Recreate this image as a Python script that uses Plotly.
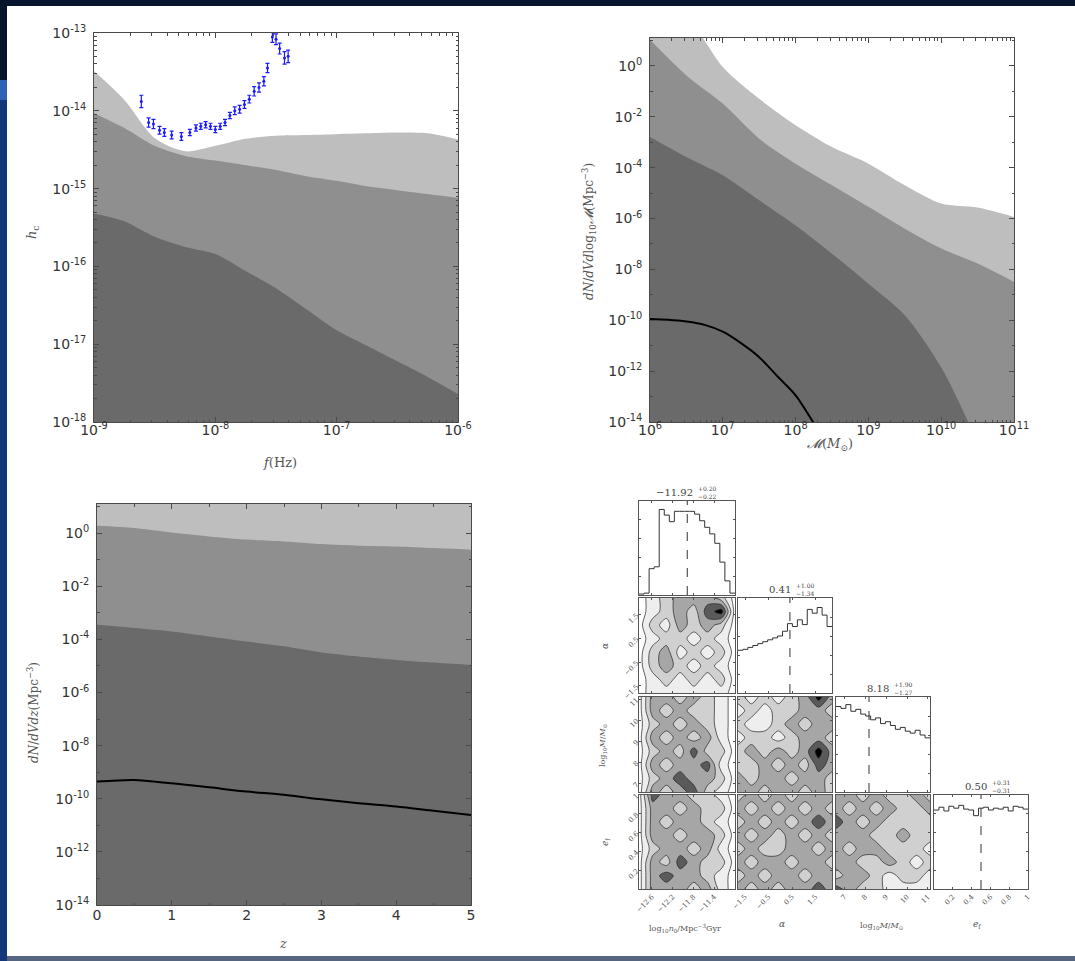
import numpy as np
import plotly.graph_objects as go

W, H = 1075, 961

# ---------------- data ----------------
# Panel A: characteristic strain h_c vs f (log10 values)
logf_grid = [-9.0, -8.75, -8.5, -8.25, -8.0, -7.75, -7.5, -7.25, -7.0, -6.75, -6.5, -6.25, -6.0]
hc_light = [-13.49, -13.86, -14.35, -14.52, -14.45, -14.36, -14.32, -14.31, -14.30, -14.29, -14.28, -14.29, -14.37]
hc_medium = [-14.03, -14.22, -14.45, -14.58, -14.64, -14.70, -14.76, -14.84, -14.90, -14.97, -15.02, -15.07, -15.12]
hc_dark = [-15.32, -15.42, -15.62, -15.75, -15.84, -16.06, -16.28, -16.55, -16.82, -17.02, -17.22, -17.42, -17.64]

pta_logf = [-8.61, -8.55, -8.51, -8.46, -8.42, -8.36, -8.28, -8.21, -8.16, -8.12, -8.08, -8.04,
            -8.00, -7.96, -7.92, -7.88, -7.84, -7.80, -7.76, -7.72, -7.68, -7.64, -7.60, -7.57,
            -7.53, -7.50, -7.47, -7.43, -7.40]
pta_logh = [-13.88, -14.15, -14.17, -14.25, -14.28, -14.31, -14.33, -14.28, -14.22, -14.20, -14.18, -14.20,
            -14.24, -14.20, -14.15, -14.06, -14.00, -13.98, -13.92, -13.85, -13.75, -13.70, -13.62, -13.45,
            -13.05, -13.08, -13.20, -13.32, -13.30]
pta_err = [0.08, 0.06, 0.06, 0.05, 0.05, 0.05, 0.05, 0.04, 0.04, 0.04, 0.04, 0.04,
           0.04, 0.04, 0.04, 0.04, 0.05, 0.05, 0.05, 0.05, 0.06, 0.06, 0.06, 0.06,
           0.07, 0.07, 0.07, 0.08, 0.08]

# Panel B: mass function (log10 values)
logM_grid = [6.0, 6.5, 7.0, 7.5, 8.0, 8.5, 9.0, 9.5, 10.0, 10.5, 11.0]
mf_light = [3.0, 2.0, -0.04, -1.29, -2.33, -3.19, -3.84, -4.69, -5.41, -5.57, -5.94]
mf_medium = [1.03, -0.37, -1.48, -2.86, -3.84, -4.69, -5.54, -6.40, -7.18, -7.77, -8.49]
mf_dark = [-2.79, -3.58, -4.30, -5.28, -6.27, -7.38, -8.56, -9.80, -11.85, -14.8, -18.0]
logM_line = [6.0, 6.25, 6.5, 6.75, 7.0, 7.25, 7.5, 7.75, 8.0, 8.25]
mf_line = [-9.95, -9.98, -10.05, -10.18, -10.45, -10.90, -11.45, -12.20, -12.95, -14.05]

# Panel C: redshift distribution (log10 values)
z_grid = [0.0, 0.5, 1.0, 1.5, 2.0, 2.5, 3.0, 3.5, 4.0, 4.5, 5.0]
zd_light = [1.6, 1.6, 1.6, 1.6, 1.6, 1.6, 1.6, 1.6, 1.6, 1.6, 1.6]
zd_medium = [0.28, 0.20, 0.03, -0.12, -0.24, -0.31, -0.41, -0.47, -0.50, -0.56, -0.62]
zd_dark = [-3.45, -3.57, -3.70, -3.89, -4.08, -4.26, -4.49, -4.64, -4.77, -4.87, -4.96]
zd_line = [-9.35, -9.29, -9.42, -9.57, -9.73, -9.85, -10.02, -10.17, -10.29, -10.45, -10.61]

# Panel D: corner plot
param_ranges = [(-12.85, -11.0), (-1.8, 2.2), (6.6, 11.1), (0.0, 1.0)]
param_ticks = [[-12.6, -12.2, -11.8, -11.4], [-1.5, -0.5, 0.5, 1.5], [7, 8, 9, 10, 11], [0.2, 0.4, 0.6, 0.8, 1.0]]
param_medians = [-11.92, 0.41, 8.18, 0.50]
param_title_main = ["−11.92", "0.41", "8.18", "0.50"]
param_title_err = ["+0.20<br>−0.22", "+1.00<br>−1.34", "+1.90<br>−1.27", "+0.31<br>−0.31"]
hist_vals = [
    [0.01, 0.02, 0.28, 0.30, 0.91, 0.85, 0.78, 0.89, 0.89, 0.89, 0.89, 0.86, 0.79, 0.72, 0.65, 0.55, 0.35, 0.15, 0.02],
    [0.45, 0.46, 0.48, 0.50, 0.52, 0.54, 0.56, 0.58, 0.60, 0.65, 0.73, 0.70, 0.77, 0.72, 0.88, 0.84, 0.90, 0.82, 0.70],
    [0.90, 0.88, 0.92, 0.85, 0.87, 0.82, 0.80, 0.76, 0.78, 0.72, 0.74, 0.70, 0.66, 0.68, 0.64, 0.62, 0.65, 0.60, 0.57],
    [0.84, 0.87, 0.83, 0.88, 0.86, 0.89, 0.85, 0.84, 0.78, 0.86, 0.87, 0.84, 0.86, 0.85, 0.87, 0.83, 0.88, 0.87, 0.85],
]
# 2-D density levels (rows bottom -> top), keyed by (row, col)
dens = {
    (1, 0): [[0, 1, 1, 1, 1, 1, 1, 0], [0, 1, 2, 1, 2, 1, 2, 0], [0, 2, 3, 2, 1, 2, 1, 0], [0, 2, 3, 1, 2, 1, 2, 0],
             [0, 1, 2, 2, 1, 2, 1, 0], [0, 2, 1, 3, 2, 3, 2, 0], [0, 1, 2, 3, 2, 4, 5, 0], [0, 1, 2, 3, 3, 3, 2, 0]],
    (2, 0): [[0, 3, 2, 3, 4, 2, 1, 0], [0, 2, 3, 4, 3, 3, 2, 0], [0, 3, 2, 3, 3, 4, 1, 0], [0, 2, 3, 2, 4, 2, 2, 0],
             [0, 3, 2, 3, 2, 3, 1, 0], [0, 2, 3, 2, 3, 2, 1, 0], [0, 3, 2, 3, 2, 2, 1, 0], [0, 3, 3, 2, 3, 2, 1, 0]],
    (2, 1): [[3, 3, 2, 3, 3, 2, 3, 2], [3, 2, 3, 3, 2, 3, 3, 2], [2, 2, 3, 2, 3, 2, 4, 3], [2, 3, 2, 3, 2, 3, 5, 3],
             [1, 2, 2, 1, 2, 3, 3, 2], [2, 1, 1, 2, 3, 2, 3, 3], [1, 2, 1, 2, 2, 3, 3, 2], [2, 1, 2, 1, 2, 3, 5, 3]],
    (3, 0): [[0, 3, 3, 3, 2, 3, 1, 0], [0, 3, 4, 3, 3, 2, 1, 0], [0, 3, 2, 4, 3, 2, 2, 0], [0, 2, 3, 3, 2, 3, 1, 0],
             [0, 3, 3, 2, 3, 3, 2, 0], [0, 3, 2, 3, 3, 2, 1, 0], [0, 3, 3, 2, 3, 2, 2, 0], [0, 4, 3, 3, 2, 2, 1, 0]],
    (3, 1): [[3, 2, 3, 2, 3, 3, 4, 3], [2, 3, 2, 3, 3, 2, 3, 3], [3, 2, 3, 3, 2, 3, 3, 2], [2, 3, 2, 2, 3, 3, 2, 3],
             [3, 2, 3, 2, 3, 2, 3, 2], [2, 3, 2, 3, 2, 3, 4, 3], [3, 2, 3, 2, 3, 2, 3, 2], [2, 3, 2, 3, 2, 3, 3, 3]],
    (3, 2): [[4, 3, 2, 2, 1, 1, 1, 1], [2, 3, 3, 2, 1, 2, 2, 1], [3, 3, 2, 2, 3, 2, 1, 2], [3, 2, 3, 3, 2, 2, 2, 1],
             [3, 3, 3, 2, 2, 3, 2, 2], [4, 3, 2, 3, 2, 2, 2, 2], [3, 2, 3, 2, 3, 2, 2, 3], [3, 3, 2, 3, 2, 2, 3, 2]],
}

# ---------------- styling helpers ----------------
LIGHT, MEDIUM, DARK = "#bebebe", "#8f8f8f", "#6a6a6a"
AX = "#4a4a4a"
TICKFONT = dict(family="DejaVu Sans", size=14, color="#333333")
SERIF = "DejaVu Serif"


def px_x(px):
    return px / W


def px_y(py):
    return 1 - py / H


def log_ticks(lo, hi, step):
    ks = list(range(lo, hi + 1, step))
    return dict(tickmode="array", tickvals=[10.0 ** k for k in ks],
                ticktext=[f"10<sup>{k}</sup>" for k in ks])


def axis(**kw):
    d = dict(showgrid=False, zeroline=False, showline=True, linecolor=AX, linewidth=1,
             mirror="allticks", ticks="inside", ticklen=5, tickcolor=AX, tickfont=TICKFONT)
    d.update(kw)
    return d


fig = go.Figure()
layout = {}


def band(xs, ys_log, color, xref, yref, floor=-30, logx=True):
    """Filled region from far below the axis up to the curve (smoothed edge)."""
    xv = [10 ** v for v in xs] if logx else list(xs)
    yv = [10 ** v for v in ys_log]
    fig.add_trace(go.Scatter(x=xv, y=[10.0 ** floor] * len(xv), mode="lines", line=dict(width=0),
                             xaxis=xref, yaxis=yref, showlegend=False, hoverinfo="skip"))
    fig.add_trace(go.Scatter(x=xv, y=yv, fill="tonexty", fillcolor=color, mode="lines",
                             line=dict(width=0, shape="spline", smoothing=0.8),
                             xaxis=xref, yaxis=yref, showlegend=False, hoverinfo="skip"))


MINOR_LOG = dict(ticks="inside", ticklen=2.5, tickcolor=AX, dtick="D1", showgrid=False)

# ---- Panel A ----
for vals, col in [(hc_light, LIGHT), (hc_medium, MEDIUM), (hc_dark, DARK)]:
    band(logf_grid, vals, col, "x", "y")
ph = np.array(pta_logh)
pe = np.array(pta_err)
fig.add_trace(go.Scatter(
    x=[10 ** v for v in pta_logf], y=list(10 ** ph), mode="markers",
    marker=dict(color="#1a1aff", size=3),
    error_y=dict(type="data", symmetric=False, array=list(10 ** (ph + pe) - 10 ** ph),
                 arrayminus=list(10 ** ph - 10 ** (ph - pe)), color="#1a1aff", thickness=1.2, width=2),
    xaxis="x", yaxis="y", showlegend=False))
layout["xaxis"] = axis(type="log", range=[-9, -6], domain=[px_x(94), px_x(458)], anchor="y",
                       ticklabelstandoff=-5, minor=MINOR_LOG, **log_ticks(-9, -6, 1))
layout["yaxis"] = axis(type="log", range=[-18, -13], domain=[px_y(422), px_y(33)], anchor="x",
                       ticklabelstandoff=4, minor=MINOR_LOG, **log_ticks(-18, -13, 1))

# ---- Panel B ----
for vals, col in [(mf_light, LIGHT), (mf_medium, MEDIUM), (mf_dark, DARK)]:
    band(logM_grid, vals, col, "x2", "y2")
fig.add_trace(go.Scatter(x=[10 ** v for v in logM_line], y=[10 ** v for v in mf_line], mode="lines",
                         line=dict(color="black", width=2, shape="spline", smoothing=0.8),
                         xaxis="x2", yaxis="y2", showlegend=False))
layout["xaxis2"] = axis(type="log", range=[6, 11], domain=[px_x(650), px_x(1014)], anchor="y2",
                        ticklabelstandoff=-5, minor=MINOR_LOG, **log_ticks(6, 11, 1))
layout["yaxis2"] = axis(type="log", range=[-14, 1.1], domain=[px_y(422), px_y(38)], anchor="x2",
                        ticklabelstandoff=4, minor=dict(ticks="inside", ticklen=2.5, tickcolor=AX, dtick=1),
                        **log_ticks(-14, 0, 2))

# ---- Panel C ----
for vals, col in [(zd_light, LIGHT), (zd_medium, MEDIUM), (zd_dark, DARK)]:
    band(z_grid, vals, col, "x3", "y3", logx=False)
fig.add_trace(go.Scatter(x=z_grid, y=[10 ** v for v in zd_line], mode="lines",
                         line=dict(color="black", width=2, shape="spline", smoothing=0.8),
                         xaxis="x3", yaxis="y3", showlegend=False))
layout["xaxis3"] = axis(range=[0, 5], dtick=1, domain=[px_x(97), px_x(471)], anchor="y3",
                        ticklabelstandoff=-3,
                        minor=dict(ticks="inside", ticklen=2.5, tickcolor=AX, dtick=0.5))
layout["yaxis3"] = axis(type="log", range=[-14, 1.1], domain=[px_y(905), px_y(504)], anchor="x3",
                        ticklabelstandoff=4, minor=dict(ticks="inside", ticklen=2.5, tickcolor=AX, dtick=1),
                        **log_ticks(-14, 0, 2))

# ---- Panel D: corner plot ----
col_px = [(639, 735), (738, 832), (836, 930), (934, 1028)]
row_px = [(501, 595), (598, 693), (697, 792), (795, 889)]
small_font = dict(family=SERIF, size=7, color="#555")
gray_scale = [[0, "#ffffff"], [0.2, "#eeeeee"], [0.4, "#d0d0d0"], [0.6, "#a6a6a6"], [0.8, "#5a5a5a"], [1, "#000000"]]
idx = 4
annotations = []
for r in range(4):
    for c in range(r + 1):
        xa, ya = f"x{idx}", f"y{idx}"
        lo, hi = param_ranges[c]
        if r == c:
            hv = hist_vals[c]
            edges = np.linspace(lo, hi, len(hv) + 1)
            fig.add_trace(go.Scatter(x=list(edges), y=hv + [hv[-1]], mode="lines",
                                     line=dict(color="#333", width=1, shape="hv"),
                                     xaxis=xa, yaxis=ya, showlegend=False))
            fig.add_trace(go.Scatter(x=[param_medians[c]] * 2, y=[0, 1], mode="lines",
                                     line=dict(color="#333", width=1, dash="dash"),
                                     xaxis=xa, yaxis=ya, showlegend=False))
            yrange = [0, 1]
            cx = (col_px[c][0] + col_px[c][1]) / 2
            ty = row_px[r][0] - 9
            annotations.append(dict(x=px_x(cx + 8), y=px_y(ty), xanchor="right", text=param_title_main[c],
                                    font=dict(family=SERIF, size=10, color="#444")))
            annotations.append(dict(x=px_x(cx + 9), y=px_y(ty), xanchor="left", text=param_title_err[c],
                                    font=dict(family=SERIF, size=6, color="#444")))
        else:
            ylo, yhi = param_ranges[r]
            g = dens[(r, c)]
            fig.add_trace(go.Contour(
                x=list(np.linspace(lo, hi, len(g[0]))), y=list(np.linspace(ylo, yhi, len(g))), z=g,
                zmin=0, zmax=5, colorscale=gray_scale, showscale=False,
                contours=dict(start=0.5, end=4.5, size=1, coloring="fill"),
                line=dict(color="#222", width=0.7, smoothing=0.85),
                xaxis=xa, yaxis=ya, hoverinfo="skip"))
            yrange = [ylo, yhi]
        show_x = (r == 3)
        show_y = (c == 0 and r > 0)
        layout[f"xaxis{idx}"] = dict(domain=[px_x(col_px[c][0]), px_x(col_px[c][1])], anchor=ya,
                                     range=[lo, hi], tickmode="array", tickvals=param_ticks[c],
                                     showticklabels=show_x, tickangle=-45, tickfont=small_font,
                                     ticks="inside", ticklen=2, tickcolor="#555", showline=True,
                                     linecolor="#555", linewidth=1, mirror="allticks",
                                     showgrid=False, zeroline=False)
        layout[f"yaxis{idx}"] = dict(domain=[px_y(row_px[r][1]), px_y(row_px[r][0])], anchor=xa,
                                     range=yrange, tickmode="array",
                                     tickvals=param_ticks[r] if r != c else [0.2, 0.4, 0.6, 0.8],
                                     showticklabels=show_y, tickangle=-45, tickfont=small_font,
                                     ticks="inside", ticklen=2, tickcolor="#555", showline=True,
                                     linecolor="#555", linewidth=1, mirror="allticks",
                                     showgrid=False, zeroline=False)
        idx += 1

# ---- axis titles (as text) ----
title_font = dict(family=SERIF, size=13, color="#555")
sm = dict(family=SERIF, size=8, color="#555")
annotations += [
    dict(x=px_x(33), y=px_y(233), text="<i>h</i><sub>c</sub>", textangle=-90, font=title_font),
    dict(x=px_x(280), y=px_y(462), text="<i>f</i>(Hz)", font=title_font),
    dict(x=px_x(589), y=px_y(232), text="<i>dN</i>/<i>dVd</i>log<sub>10</sub><i>𝓜</i>(Mpc<sup>−3</sup>)",
         textangle=-90, font=dict(family=SERIF, size=12, color="#555")),
    dict(x=px_x(830), y=px_y(444), text="<i>𝓜</i>(<i>M</i><sub>⊙</sub>)", font=title_font),
    dict(x=px_x(33), y=px_y(713), text="<i>dN</i>/<i>dVdz</i>(Mpc<sup>−3</sup>)", textangle=-90,
         font=dict(family=SERIF, size=12, color="#555")),
    dict(x=px_x(283), y=px_y(943), text="<i>z</i>", font=title_font),
    dict(x=px_x(605), y=px_y(646), text="<i>α</i>", textangle=-90, font=dict(family=SERIF, size=9, color="#555")),
    dict(x=px_x(603), y=px_y(745), text="log<sub>10</sub><i>M</i>/<i>M</i><sub>⊙</sub>", textangle=-90, font=sm),
    dict(x=px_x(605), y=px_y(842), text="<i>e</i><sub>f</sub>", textangle=-90, font=dict(family=SERIF, size=9, color="#555")),
    dict(x=px_x(685), y=px_y(928), text="log<sub>10</sub><i>n</i><sub>0</sub>/Mpc<sup>−3</sup>Gyr", font=sm),
    dict(x=px_x(782), y=px_y(924), text="<i>α</i>", font=dict(family=SERIF, size=9, color="#555")),
    dict(x=px_x(882), y=px_y(926), text="log<sub>10</sub><i>M</i>/<i>M</i><sub>⊙</sub>", font=sm),
    dict(x=px_x(977), y=px_y(924), text="<i>e</i><sub>f</sub>", font=dict(family=SERIF, size=9, color="#555")),
]
for a in annotations:
    a.setdefault("xref", "paper")
    a.setdefault("yref", "paper")
    a.setdefault("showarrow", False)
    a.setdefault("xanchor", "center")
    a.setdefault("yanchor", "middle")


# ---- slide frame (outside the plot areas) ----
def frame(x0, x1, y0, y1, color):
    return dict(type="rect", xref="paper", yref="paper", x0=px_x(x0), x1=px_x(x1),
                y0=px_y(y1), y1=px_y(y0), fillcolor=color, line_width=0, layer="above")


shapes = [
    frame(0, W, 0, 6, "#06142c"),
    frame(0, 7, 0, 80, "#06142c"),
    frame(0, 7, 80, 100, "#2d62b5"),
    frame(0, 7, 100, H, "#12387a"),
    frame(7, W, 956, H, "#55647f"),
]

fig.update_layout(width=W, height=H, margin=dict(l=0, r=0, t=0, b=0, autoexpand=False),
                  paper_bgcolor="white", plot_bgcolor="white", showlegend=False,
                  annotations=annotations, shapes=shapes, **layout)
fig.write_html("out.html", config={"displayModeBar": False},
               post_script="document.body.style.margin='0px';")
